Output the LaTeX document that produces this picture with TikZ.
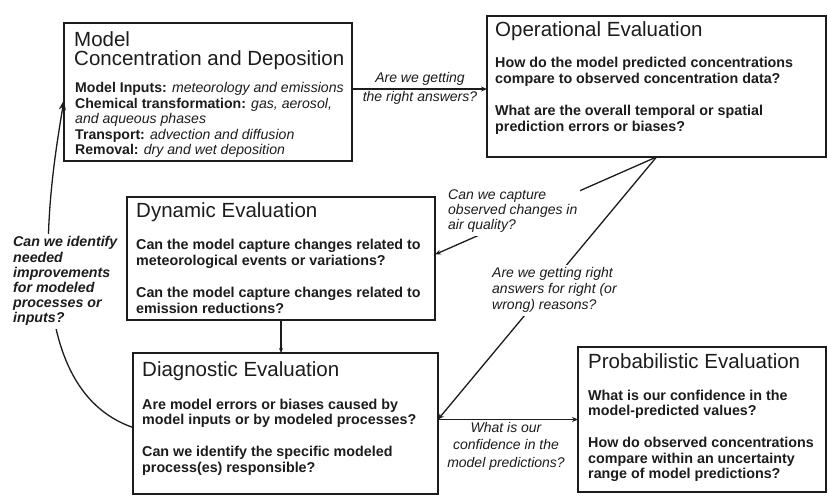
\documentclass[tikz,border=0pt]{standalone}
\usepackage{fontspec}
\setmainfont{Liberation Sans}
\usetikzlibrary{arrows.meta,calc}
\definecolor{ink}{RGB}{28,28,28}
\newcommand\Lstack[1]{\vtop{\halign{##\hfil\cr#1\crcr}}}
\newcommand\Cstack[1]{\vtop{\halign{\hfil##\hfil\cr#1\crcr}}}
\newcommand\pgap{\noalign{\vskip15.7bp}}
\begin{document}
\begin{tikzpicture}[x=1bp,y=-1bp,
  box/.style={draw=ink, line width=1.5bp, rectangle, inner sep=0pt, outer sep=0pt, anchor=north west},
  ttl/.style={anchor=base west, inner sep=0pt, text=ink, font=\fontsize{20.5bp}{18.5bp}\selectfont},
  body/.style={anchor=base west, inner sep=0pt, text=ink, font=\fontsize{14.3bp}{15.8bp}\selectfont\bfseries},
  mbody/.style={anchor=base west, inner sep=0pt, text=ink, font=\fontsize{14.1bp}{15.5bp}\selectfont},
  lab/.style={inner sep=0pt, text=ink, font=\fontsize{14bp}{15.5bp}\selectfont\itshape},
  conn/.style={draw=ink, line width=1.3bp},
  tip/.style={-{Stealth[length=6bp,width=5bp]}}
]
\fill[white] (0,0) rectangle (828,498);
\useasboundingbox (0,0) rectangle (828,498);

% boxes
\node[box, minimum width=288bp, minimum height=138bp] (model) at (64,23) {};
\node[box, minimum width=339bp, minimum height=141bp] (op) at (487,16) {};
\node[box, minimum width=308bp, minimum height=123bp] (dyn) at (127,197) {};
\node[box, minimum width=305bp, minimum height=141bp] (diag) at (133,353) {};
\node[box, minimum width=248bp, minimum height=145bp] (prob) at (578,347) {};

% box texts
\node[ttl] (modelT) at ($(model.north west)+(10,24)$) {\Lstack{Model\cr Concentration and Deposition}};
\node[mbody] (modelB) at ($(model.north west)+(11,70)$) {\Lstack{%
  \textbf{Model Inputs:} \textit{meteorology and emissions}\cr
  \textbf{Chemical transformation:} \textit{gas, aerosol,}\cr
  \textit{and aqueous phases}\cr
  \textbf{Transport:} \textit{advection and diffusion}\cr
  \textbf{Removal:} \textit{dry and wet deposition}}};

\node[ttl] (opT) at ($(op.north west)+(8,21)$) {Operational Evaluation};
\node[body] (opB) at ($(op.north west)+(8,52)$) {\Lstack{%
  How do the model predicted concentrations\cr
  compare to observed concentration data?\cr\pgap
  What are the overall temporal or spatial\cr
  prediction errors or biases?}};

\node[ttl] (dynT) at ($(dyn.north west)+(9,21)$) {Dynamic Evaluation};
\node[body] (dynB) at ($(dyn.north west)+(9,53)$) {\Lstack{%
  Can the model capture changes related to\cr
  meteorological events or variations?\cr\pgap
  Can the model capture changes related to\cr
  emission reductions?}};

\node[ttl] (diagT) at ($(diag.north west)+(9,23)$) {Diagnostic Evaluation};
\node[body] (diagB) at ($(diag.north west)+(9,56)$) {\Lstack{%
  Are model errors or biases caused by\cr
  model inputs or by modeled processes?\cr\pgap
  Can we identify the specific modeled\cr
  process(es) responsible?}};

\node[ttl] (probT) at ($(prob.north west)+(10,21)$) {Probabilistic Evaluation};
\node[body] (probB) at ($(prob.north west)+(10,53)$) {\Lstack{%
  What is our confidence in the\cr
  model-predicted values?\cr\pgap
  How do observed concentrations\cr
  compare within an uncertainty\cr
  range of model predictions?}};

% connectors
\coordinate (ya) at (0,89);
\draw[conn,tip] (model.east |- ya) -- (op.west |- ya);
\draw[conn,tip] (op.south) -- ($(dyn.east)+(0,-4)$);
\draw[conn,tip] (op.south) -- ($(diag.east)+(0,-4)$);
\draw[conn,tip] (prob.west -| diag.east) -- (prob.west);
\draw[conn,-{Stealth[length=5bp,width=4bp]}] (dyn.south) -- (dyn.south |- diag.north);
\draw[conn,-{Stealth[length=10bp,width=7bp]}] ($(diag.west)+(0,4)$) .. controls (16,387) and (50,184) .. ($(model.west)+(0,8)$);

% connector labels
\node[lab, anchor=base] (q1) at (420,83) {\Cstack{Are we getting\cr\noalign{\vskip3.5bp}the right answers?}};
\node[lab, anchor=base west, fill=white, inner sep=3bp, font=\fontsize{14bp}{15bp}\selectfont\itshape] (q2) at (445,200) {\Lstack{Can we capture\cr observed changes in\cr air quality?}};
\node[lab, anchor=base west, fill=white, inner sep=3bp, font=\fontsize{14bp}{16bp}\selectfont\itshape] (q3) at (489,278) {\Lstack{Are we getting right\cr answers for right (or\cr wrong) reasons?}};
\node[lab, anchor=base, font=\fontsize{14bp}{17.5bp}\selectfont\itshape] (q4) at (506,432) {\Cstack{What is our\cr confidence in the\cr model predictions?}};
\node[lab, anchor=base west, fill=white, inner sep=3bp, font=\fontsize{14.2bp}{15.2bp}\selectfont\bfseries\itshape] (q5) at (10,247) {\Lstack{Can we identify\cr needed\cr improvements\cr for modeled\cr processes or\cr inputs?}};
\end{tikzpicture}
\end{document}
